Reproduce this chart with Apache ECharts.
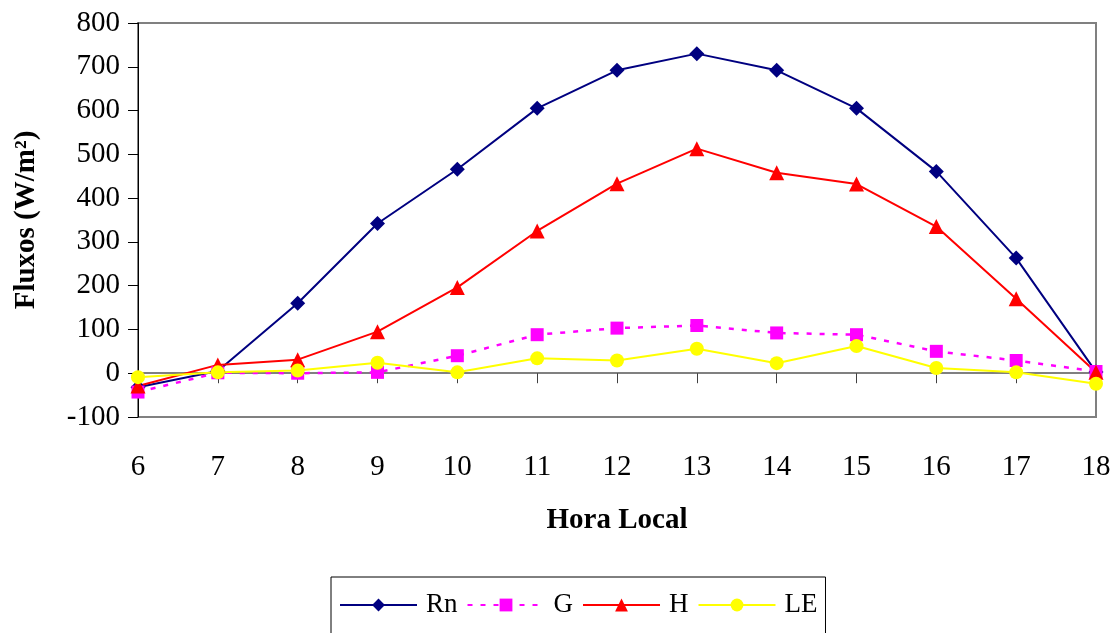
<!DOCTYPE html>
<html>
<head>
<meta charset="utf-8">
<script src="https://cdn.jsdelivr.net/npm/echarts@6/dist/echarts.min.js"></script>
<style>
html,body{margin:0;padding:0;background:#fff;}
#chart{width:1119px;height:633px;}
</style>
</head>
<body>
<div id="chart"></div>
<script>
const hours = [6,7,8,9,10,11,12,13,14,15,16,17,18];
const rn = [-32, 5, 160, 342, 466, 605, 692, 730, 692, 605, 461, 263, 3];
const g  = [-43, 1, 0, 2, 40, 88, 103, 109, 92, 88, 50, 29, 4];
const h  = [-29, 19, 31, 95, 196, 325, 433, 513, 458, 432, 335, 170, 2];
const le = [-9, 2, 6, 24, 2, 34, 29, 56, 23, 62, 12, 2, -24];
const yTicks = [-100, 0, 100, 200, 300, 400, 500, 600, 700, 800];

const font = 'Liberation Serif, Times New Roman, serif';
const pair = arr => hours.map((x, i) => [x, arr[i]]);

const chart = echarts.init(document.getElementById('chart'), null, {renderer: 'canvas'});
chart.setOption({
  animation: false,
  backgroundColor: '#fff',
  grid: {
    left: 138, right: 23, top: 23, bottom: 216,
    show: true, borderColor: '#808080', borderWidth: 2, backgroundColor: 'transparent'
  },
  xAxis: [
    {
      type: 'value', min: 6, max: 18, interval: 1,
      axisLine: {onZero: true, lineStyle: {color: '#808080', width: 2}},
      axisTick: {show: true, length: 10, lineStyle: {color: '#404040', width: 1}},
      axisLabel: {show: false},
      splitLine: {show: false}
    },
    {
      type: 'value', min: 6, max: 18, interval: 1, position: 'bottom',
      axisLine: {show: false, onZero: false},
      axisTick: {show: false},
      axisLabel: {show: true, fontFamily: font, fontSize: 29, color: '#000', margin: 36},
      splitLine: {show: false},
      name: 'Hora Local', nameLocation: 'middle', nameGap: 89,
      nameTextStyle: {fontFamily: font, fontSize: 29, fontWeight: 'bold', color: '#000'}
    }
  ],
  yAxis: {
    type: 'value', min: yTicks[0], max: yTicks[yTicks.length - 1], interval: 100,
    axisLine: {show: true, onZero: false, lineStyle: {color: '#000', width: 1}},
    axisTick: {show: true, length: 10, lineStyle: {color: '#000'}},
    axisLabel: {fontFamily: font, fontSize: 29, color: '#000', margin: 18},
    splitLine: {show: false},
    name: 'Fluxos (W/m²)', nameLocation: 'middle', nameGap: 97, nameRotate: 90,
    nameTextStyle: {fontFamily: font, fontSize: 29, fontWeight: 'bold', color: '#000'}
  },
  legend: {
    left: 331, top: 577,
    width: 700,
    padding: [14, 8, 40, 8],
    borderColor: '#000', borderWidth: 1,
    itemWidth: 77, itemHeight: 16, itemGap: 9,
    textStyle: {fontFamily: font, fontSize: 27, color: '#000', lineHeight: 28, padding: [0, 0, 0, 4]},
    data: ['Rn', 'G', 'H', 'LE']
  },
  series: [
    {
      name: 'Rn', type: 'line', xAxisIndex: 0, data: pair(rn),
      symbol: 'diamond', symbolSize: 15,
      lineStyle: {color: '#000080', width: 2},
      itemStyle: {color: '#000080'}
    },
    {
      name: 'G', type: 'line', xAxisIndex: 0, data: pair(g),
      symbol: 'rect', symbolSize: 13,
      lineStyle: {color: '#FF00FF', width: 2.5, type: [5, 8]},
      itemStyle: {color: '#FF00FF'}
    },
    {
      name: 'H', type: 'line', xAxisIndex: 0, data: pair(h),
      symbol: 'triangle', symbolSize: 15,
      lineStyle: {color: '#FF0000', width: 2},
      itemStyle: {color: '#FF0000'}
    },
    {
      name: 'LE', type: 'line', xAxisIndex: 0, data: pair(le),
      symbol: 'circle', symbolSize: 14,
      lineStyle: {color: '#FFFF00', width: 2},
      itemStyle: {color: '#FFFF00'}
    }
  ]
});
</script>
</body>
</html>
